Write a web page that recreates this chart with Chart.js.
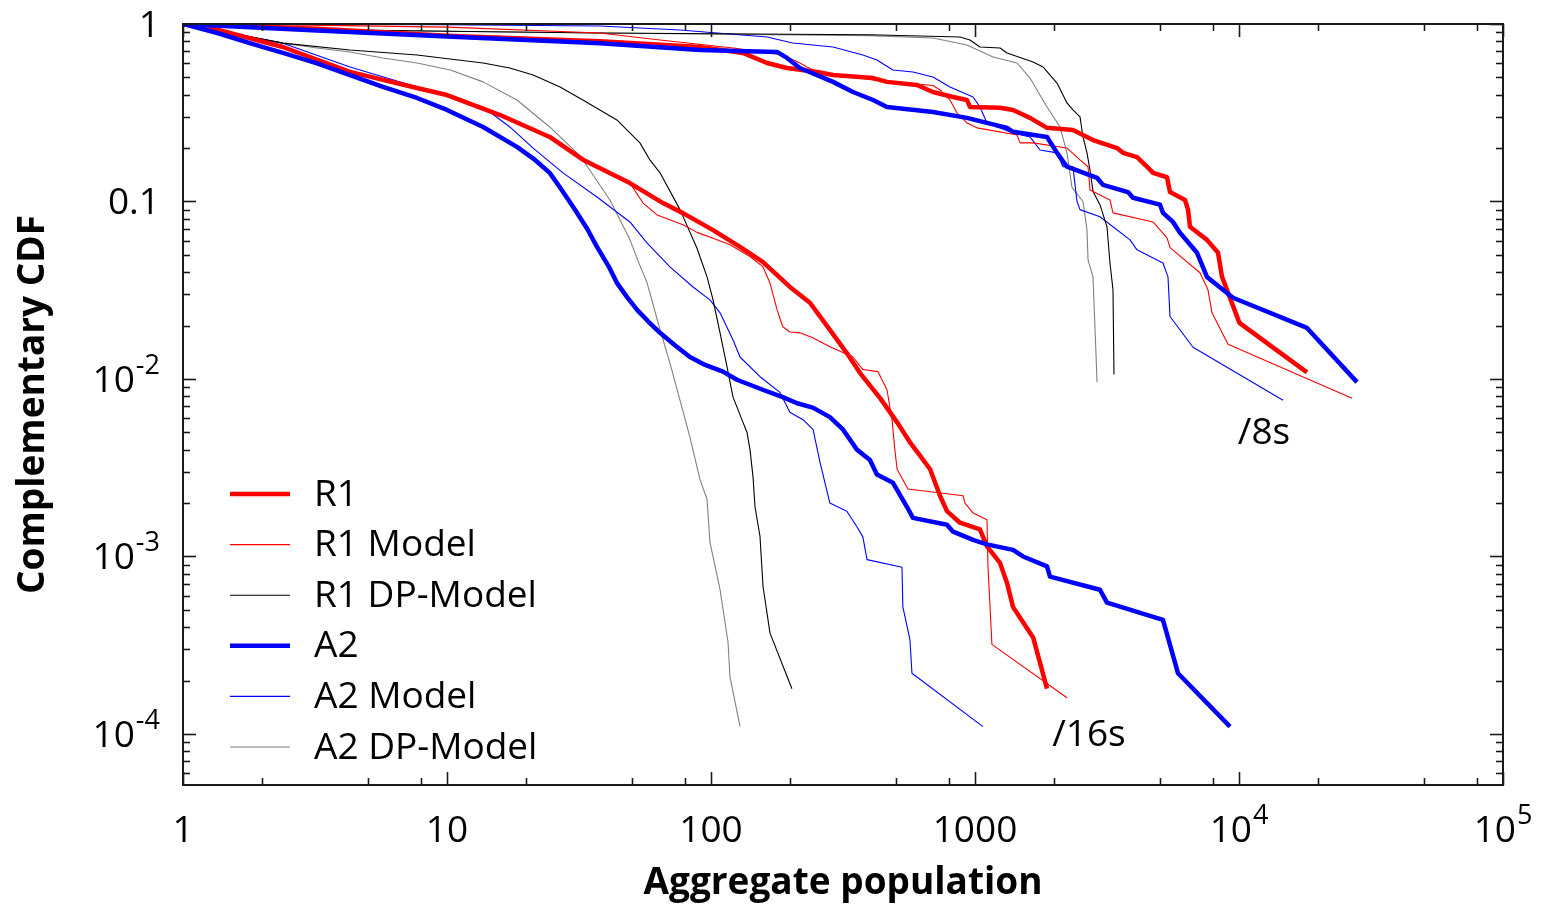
<!DOCTYPE html>
<html>
<head>
<meta charset="utf-8">
<script src="https://cdn.jsdelivr.net/npm/chart.js@4.4.1/dist/chart.umd.min.js"></script>
<style>
html,body{margin:0;padding:0;background:#ffffff;}
#wrap{width:1543px;height:908px;position:relative;}
</style>
</head>
<body>
<div id="wrap"><canvas id="c" width="1543" height="908"></canvas></div>
<script>
// ---------- tick labels ----------
const xTickValues = [1, 10, 100, 1000, 10000, 100000];
const xTickLabels = ['1', '10', '100', '1000', '10^4', '10^5'];
const yTickValues = [1, 0.1, 0.01, 0.001, 0.0001];
const yTickLabels = ['1', '0.1', '10^-2', '10^-3', '10^-4'];

// ---------- series names ----------
const seriesNames = ['R1', 'R1 Model', 'R1 DP-Model', 'A2', 'A2 Model', 'A2 DP-Model'];
const groupNames = ['/8s', '/16s'];

// ---------- /8s group: [aggregate population, complementary CDF] ----------
const R1_8s = [[1,1],[3.22,0.94],[10,0.86],[38,0.8],[90.9,0.742],[132,0.687],[163,0.603],[194,0.565],[252,0.537],[290,0.516],[411,0.496],[464,0.472],[603,0.453],[693,0.414],[826,0.388],[932,0.373],[957,0.341],[1244,0.337],[1393,0.328],[1616,0.296],[1874,0.26],[2350,0.253],[2565,0.237],[2799,0.222],[3451,0.2],[3636,0.188],[4108,0.178],[4481,0.157],[4725,0.145],[5337,0.137],[5478,0.113],[6245,0.102],[6410,0.09],[6523,0.072],[7564,0.0608],[8328,0.0514],[8624,0.0376],[10038,0.0207],[18095,0.0109]];
const R1Model_8s = [[1,1],[3,0.985],[10,0.96],[38,0.89],[64.1,0.813],[121.2,0.733],[187.4,0.669],[217,0.603],[231,0.573],[252,0.54],[411,0.484],[693,0.45],[737,0.425],[804,0.373],[855,0.315],[932,0.277],[1018,0.26],[1443,0.237],[1481,0.214],[1660,0.214],[2230,0.2],[2499,0.1715],[2680,0.157],[2727,0.116],[3245,0.102],[3332,0.0863],[4725,0.0767],[5337,0.0624],[5478,0.055],[7115,0.0397],[7630,0.0318],[7900,0.0236],[9086,0.0157],[26790,0.0078]];
const R1DP_8s = [[1,1],[3.22,0.93],[10,0.91],[38,0.89],[400,0.87],[877,0.845],[957,0.813],[1044,0.742],[1244,0.733],[1322,0.687],[1660,0.611],[1809,0.573],[2045,0.465],[2230,0.359],[2350,0.328],[2499,0.3],[2565,0.231],[2656,0.188],[2727,0.15],[2799,0.114],[2974,0.096],[3162,0.072],[3245,0.045],[3332,0.0318],[3361,0.0106]];
const A2_8s = [[1,1],[3.22,0.92],[10,0.85],[38,0.78],[90.9,0.714],[177.8,0.696],[194,0.644],[217,0.565],[290,0.472],[345,0.414],[411,0.373],[464,0.341],[693,0.319],[932,0.296],[1322,0.26],[1393,0.247],[1874,0.231],[2045,0.188],[2230,0.157],[2900,0.136],[3053,0.124],[3798,0.113],[3967,0.105],[5022,0.096],[5152,0.0863],[5623,0.0767],[5977,0.0666],[6934,0.0514],[7564,0.0376],[9488,0.0287],[18095,0.0194],[27990,0.0096]];
const A2Model_8s = [[1,1],[10,0.99],[38,0.974],[76.3,0.925],[105.4,0.89],[163,0.845],[204,0.782],[290,0.742],[376,0.669],[425,0.627],[489,0.551],[582,0.537],[693,0.503],[804,0.442],[983,0.388],[1044,0.341],[1110,0.277],[1393,0.243],[1616,0.231],[1763,0.195],[2045,0.188],[2154,0.157],[2350,0.157],[2434,0.1],[2499,0.09],[2974,0.082],[3865,0.0608],[4108,0.0534],[5152,0.045],[5383,0.0376],[5478,0.0225],[6696,0.0151],[14678,0.0076]];
const A2DP_8s = [[1,1],[3.22,0.93],[10,0.91],[38,0.89],[400,0.86],[693,0.834],[932,0.762],[1170,0.652],[1443,0.603],[1616,0.496],[1717,0.425],[1874,0.341],[2099,0.263],[2230,0.188],[2330,0.12],[2565,0.1],[2656,0.0692],[2680,0.0469],[2799,0.0376],[2900,0.0096]];

// ---------- /16s group ----------
const R1_16s = [[1,1],[1.35,0.93],[2.39,0.742],[4.29,0.537],[7.7,0.436],[10,0.398],[15.9,0.307],[24.5,0.231],[32.7,0.172],[37,0.157],[49.3,0.127],[65.8,0.098],[78.3,0.086],[101.8,0.069],[128.8,0.0555],[157,0.0457],[199,0.033],[237,0.0269],[282,0.0189],[327,0.014],[367,0.0108],[437,0.0078],[507,0.0057],[567,0.0044],[619,0.0037],[676,0.0031],[737,0.0022],[783,0.0018],[877,0.00155],[1044,0.00142],[1110,0.00114],[1244,0.00092],[1322,0.00071],[1393,0.00052],[1660,0.00035],[1874,0.00018]];
const R1Model_16s = [[1,1],[1.35,0.93],[2.39,0.742],[4.29,0.537],[7.7,0.436],[10,0.398],[15.9,0.307],[24.5,0.231],[37,0.157],[49.3,0.127],[55.3,0.098],[62.5,0.084],[78.3,0.074],[88.5,0.067],[101.8,0.062],[118,0.057],[140.5,0.049],[157,0.043],[167,0.035],[178,0.0245],[187,0.0197],[199,0.0184],[217,0.0182],[243,0.0171],[282,0.0152],[345,0.0133],[376,0.0113],[429,0.011],[464,0.0087],[485,0.0059],[497,0.004],[507,0.0031],[557,0.0024],[901,0.0022],[916,0.002],[983,0.00176],[1110,0.00161],[1120,0.00088],[1159,0.00032],[2230,0.00016]];
const R1DP_16s = [[1,1],[2.39,0.78],[4.29,0.714],[7.7,0.669],[13.7,0.603],[17.3,0.565],[21.2,0.516],[26.8,0.442],[32.7,0.373],[44,0.288],[53.8,0.214],[58.7,0.1715],[64.1,0.145],[76.3,0.09],[88.5,0.0545],[96.6,0.0376],[101.8,0.0279],[108.2,0.0182],[115,0.0117],[121.2,0.0079],[132.2,0.0057],[136.9,0.005],[140.5,0.004],[144.3,0.0028],[146.8,0.0019],[153.3,0.0013],[157.4,0.00068],[167.3,0.00037],[202.6,0.00018]];
const A2_16s = [[1,1],[1.35,0.89],[1.79,0.78],[2.39,0.687],[3.22,0.6],[4.29,0.516],[5.72,0.442],[7.7,0.383],[10,0.328],[13.7,0.263],[18.4,0.203],[21.5,0.172],[24.5,0.145],[27,0.118],[30.5,0.09],[34,0.07],[37,0.0555],[41,0.043],[44,0.0348],[48,0.029],[52.5,0.0245],[58,0.021],[64.1,0.0182],[73,0.0155],[83.2,0.0133],[95,0.012],[111,0.011],[125.4,0.0099],[157,0.0087],[187,0.0079],[212,0.0073],[243,0.0069],[282,0.0061],[316,0.0052],[357,0.004],[400,0.0035],[425,0.0029],[489,0.0026],[553,0.0019],[582,0.00165],[783,0.00151],[826,0.00138],[983,0.00124],[1110,0.00117],[1393,0.00109],[1520,0.001],[1874,0.00088],[1923,0.00077],[2974,0.00065],[3162,0.00055],[5152,0.00044],[5872,0.00022],[9246,0.00011]];
const A2Model_16s = [[1,1],[2.39,0.78],[4.29,0.573],[7.7,0.442],[13.7,0.341],[17.3,0.263],[21.2,0.2],[27.5,0.145],[37,0.106],[49.3,0.0767],[57.2,0.0585],[69.9,0.0428],[85.5,0.033],[99.1,0.0279],[108.2,0.0236],[121.2,0.0166],[128.8,0.0133],[153.3,0.0103],[182.5,0.0084],[199,0.0065],[223,0.0059],[243.5,0.0052],[258.7,0.0034],[282,0.002],[327,0.0018],[357,0.00147],[376,0.00129],[390,0.00096],[529,0.00087],[533,0.00052],[567,0.00034],[577,0.00022],[1072,0.00011]];
const A2DP_16s = [[1,1],[2.39,0.78],[3.22,0.733],[4.29,0.696],[5.72,0.644],[7.7,0.603],[10.3,0.551],[13.7,0.472],[18.4,0.373],[24.5,0.263],[32,0.18],[41.4,0.102],[46,0.075],[49.3,0.061],[53,0.046],[57.2,0.035],[64.1,0.019],[69.9,0.0123],[76.3,0.0076],[83.2,0.0047],[90.9,0.0027],[96.6,0.0021],[99.1,0.0012],[108.2,0.00065],[116,0.00033],[118,0.00021],[128.8,0.00011]];

// ---------- styles ----------
const FONT = '"Open Sans", "Noto Sans", "DejaVu Sans", sans-serif';
const styles = [
  {color: '#ff0000', width: 4.5, order: 1},   // R1
  {color: '#ff0000', width: 1.1, order: 2},   // R1 Model
  {color: '#000000', width: 1.1, order: 2},   // R1 DP-Model
  {color: '#0000ff', width: 4.5, order: 0},   // A2
  {color: '#0000ff', width: 1.1, order: 2},   // A2 Model
  {color: '#808080', width: 1.1, order: 2}    // A2 DP-Model
];
const groups = [
  [R1_8s, R1Model_8s, R1DP_8s, A2_8s, A2Model_8s, A2DP_8s],
  [R1_16s, R1Model_16s, R1DP_16s, A2_16s, A2Model_16s, A2DP_16s]
];

const datasets = [];
groups.forEach((g, gi) => {
  g.forEach((arr, si) => {
    const st = styles[si];
    datasets.push({
      label: seriesNames[si],
      group: groupNames[gi],
      data: arr.map(p => ({x: p[0], y: p[1]})),
      borderColor: st.color,
      backgroundColor: st.color,
      borderWidth: st.width,
      order: st.order,
      pointRadius: 0,
      tension: 0,
      fill: false,
      borderJoinStyle: 'round',
      borderCapStyle: 'butt'
    });
  });
});

const LBL = 37, EXP = 27;
function drawLabel(ctx, label, x, y, align) {
  const parts = label.split('^');
  const base = parts[0], exp = parts[1];
  ctx.font = LBL + 'px ' + FONT;
  const bw = ctx.measureText(base).width;
  let ew = 0;
  if (exp) { ctx.font = EXP + 'px ' + FONT; ew = ctx.measureText(exp).width + 1; }
  const total = bw + ew;
  const left = align === 'center' ? x - total / 2 : x - total;
  ctx.textAlign = 'left';
  ctx.textBaseline = 'alphabetic';
  ctx.font = LBL + 'px ' + FONT;
  ctx.fillText(base, left, y);
  if (exp) { ctx.font = EXP + 'px ' + FONT; ctx.fillText(exp, left + bw + 1, y - 18); }
}

const framePlugin = {
  id: 'frame',
  afterDraw(chart) {
    const ctx = chart.ctx, a = chart.chartArea, xs = chart.scales.x, ys = chart.scales.y;
    ctx.save();
    ctx.strokeStyle = '#1a1a1a';
    ctx.lineWidth = 2;
    ctx.strokeRect(a.left, a.top, a.right - a.left, a.bottom - a.top);
    ctx.lineWidth = 1.6;
    const seg = (x1, y1, x2, y2) => { ctx.beginPath(); ctx.moveTo(x1, y1); ctx.lineTo(x2, y2); ctx.stroke(); };
    for (let d = 0; d <= 5; d++) {
      for (const m of [1, 2, 5, 8]) {
        const v = m * Math.pow(10, d);
        if (v > xs.max * 1.0001) continue;
        const px = Math.round(xs.getPixelForValue(v)) + 0.5;
        const len = m === 1 ? 13 : 7;
        seg(px, a.top, px, a.top + len);
        seg(px, a.bottom, px, a.bottom - len);
      }
    }
    for (let d = -5; d <= 0; d++) {
      for (let m = 1; m <= 9; m++) {
        const v = m * Math.pow(10, d);
        if (v > ys.max * 1.0001 || v < ys.min) continue;
        const py = Math.round(ys.getPixelForValue(v)) + 0.5;
        const len = m === 1 ? 13 : 7;
        seg(a.left, py, a.left + len, py);
        seg(a.right, py, a.right - len, py);
      }
    }
    ctx.fillStyle = '#000';
    xTickValues.forEach((v, i) => drawLabel(ctx, xTickLabels[i], xs.getPixelForValue(v), 842, 'center'));
    yTickValues.forEach((v, i) => drawLabel(ctx, yTickLabels[i], 160, ys.getPixelForValue(v) + 13, 'right'));

    const rowY0 = 494, rowH = 50.6;
    seriesNames.forEach((name, i) => {
      const ds = chart.data.datasets[i];
      const yy = rowY0 + i * rowH;
      ctx.strokeStyle = ds.borderColor;
      ctx.lineWidth = ds.borderWidth;
      seg(230, yy, 290, yy);
      ctx.fillStyle = '#000';
      ctx.font = '37px ' + FONT;
      ctx.textAlign = 'left';
      ctx.textBaseline = 'middle';
      ctx.fillText(name, 314, yy + 1);
    });

    const notes = [{text: groupNames[0], x: 9900, y: 0.0043}, {text: groupNames[1], x: 1960, y: 0.000086}];
    ctx.font = '37px ' + FONT;
    ctx.textAlign = 'left';
    ctx.textBaseline = 'alphabetic';
    notes.forEach(n => ctx.fillText(n.text, xs.getPixelForValue(n.x), ys.getPixelForValue(n.y)));
    ctx.restore();
  }
};

new Chart(document.getElementById('c'), {
  type: 'line',
  data: {datasets},
  options: {
    responsive: false,
    animation: false,
    devicePixelRatio: 1,
    layout: {padding: {top: 24, right: 40, left: 0, bottom: 0}},
    plugins: {legend: {display: false}, tooltip: {enabled: false}},
    scales: {
      x: {
        type: 'logarithmic',
        min: 1, max: 100000,
        grid: {display: false, drawTicks: false},
        border: {display: false},
        ticks: {display: false},
        afterBuildTicks: s => { s.ticks = xTickValues.map(v => ({value: v})); },
        afterFit: s => { s.height = 123; },
        title: {display: true, text: 'Aggregate population', color: '#000',
                font: {family: FONT, size: 37, weight: 'bold'}, padding: {top: 0, bottom: 2}}
      },
      y: {
        type: 'logarithmic',
        min: 0.0000516, max: 1,
        grid: {display: false, drawTicks: false},
        border: {display: false},
        ticks: {display: false},
        afterBuildTicks: s => { s.ticks = yTickValues.map(v => ({value: v})); },
        afterFit: s => { s.width = 183; },
        title: {display: true, text: 'Complementary CDF', color: '#000',
                font: {family: FONT, size: 37, weight: 'bold'}, padding: {top: 11, bottom: 0}}
      }
    }
  },
  plugins: [framePlugin]
});
</script>
</body>
</html>
